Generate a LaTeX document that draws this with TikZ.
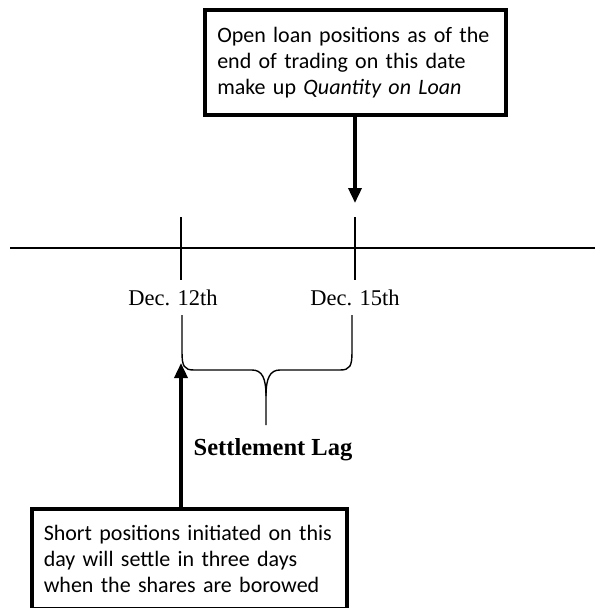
\documentclass[tikz,border=0pt]{standalone}
\usepackage{fontspec}
\setmainfont{Carlito}
\newfontfamily\serifdates{Liberation Serif}
\usetikzlibrary{arrows.meta}
\tikzset{
  notebox/.style={draw, line width=3.5pt, align=left, inner ysep=0pt,
    font=\fontsize{22}{26}\selectfont},
  bigarrow/.style={line width=3.5pt, -{Triangle[length=15pt,width=13pt]}},
  timeline/.style={line width=2pt},
  tickline/.style={line width=2.2pt},
  bracket/.style={line width=1.4pt},
  datelabel/.style={font=\serifdates\fontsize{22.5}{26}\selectfont, inner sep=0pt, anchor=base},
}
\begin{document}
\begin{tikzpicture}[x=1pt,y=-1pt]
\useasboundingbox (0,0) rectangle (595,608);
% boxes
\node[notebox, text width=276pt, inner xsep=12.5pt, minimum height=105pt, anchor=north west] (topbox) at (203,8)
  {Open loan positions as of the\\end of trading on this date\\make up \textit{Quantity on Loan}};
\node[notebox, text width=291pt, inner xsep=12pt, minimum height=100pt, anchor=north west] (botbox) at (30,507)
  {Short positions initiated on this\\day will settle in three days\\when the shares are borowed};
% timeline
\coordinate (lineL) at (10,248);
\coordinate (lineR) at (595,248);
\draw[timeline] (lineL) -- (lineR);
\coordinate (tickAtop) at (181,217);
\coordinate (tickAbot) at (181,280);
\coordinate (tickBtop) at (355,217);
\coordinate (tickBbot) at (355,280);
\draw[tickline] (tickAtop) -- (tickAbot);
\draw[tickline] (tickBtop) -- (tickBbot);
% dates
\node[datelabel] (d12) at (173,305) {Dec. 12th};
\node[datelabel] (d15) at (355,305) {Dec. 15th};
% arrows
\coordinate (tipTop) at (355,203);
\draw[bigarrow] (topbox.south -| tipTop) -- (tipTop);
\coordinate (tipBot) at (181,363);
\draw[bigarrow] (botbox.north -| tipBot) -- (tipBot);
% brace
\coordinate (brL) at (182,315);
\coordinate (brR) at (352,315);
\coordinate (brTip) at (266,425);
\draw[bracket] (brL) -- (182,352) .. controls (182,366) and (184,370) .. (194,370)
  -- (252,370) .. controls (262,370) and (266,378) .. (266,396) -- (brTip);
\draw[bracket] (brR) -- (352,352) .. controls (352,366) and (350,370) .. (340,370)
  -- (280,370) .. controls (270,370) and (266,378) .. (266,396);
% label
\node[font=\serifdates\bfseries\fontsize{24.5}{28}\selectfont, inner sep=0pt, anchor=base] (lag) at (273,455) {Settlement Lag};
\end{tikzpicture}
\end{document}
